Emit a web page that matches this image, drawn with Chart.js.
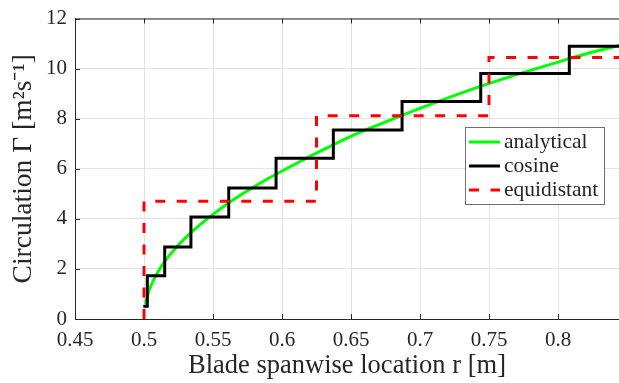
<!DOCTYPE html>
<html lang="en">

<head>
    <meta charset="UTF-8">
    <title>Circulation distribution</title>
    <script src="https://cdn.jsdelivr.net/npm/chart.js"></script>
    <style>
        body { margin: 0; background: #fff; }
    </style>
</head>

<body>
    <canvas id="graficoCirc" width="619" height="383"></canvas>

<script>
    // eixos
    const xTicks = [0.45, 0.5, 0.55, 0.6, 0.65, 0.7, 0.75, 0.8];
    const yTicks = [0, 2, 4, 6, 8, 10, 12];
    const seriesNames = ['analytical', 'cosine', 'equidistant'];

    // curva analitica
    const analyticalR = [0.501, 0.5025, 0.505, 0.508, 0.512, 0.517, 0.523, 0.53, 0.54, 0.55, 0.562,
        0.575, 0.59, 0.61, 0.63, 0.655, 0.68, 0.71, 0.74, 0.77, 0.8, 0.825, 0.8442];
    const analyticalG = [0.6, 0.93, 1.32, 1.67, 2.05, 2.44, 2.84, 3.24, 3.74, 4.18, 4.66,
        5.12, 5.61, 6.2, 6.76, 7.42, 7.98, 8.62, 9.22, 9.76, 10.26, 10.66, 10.92];

    // distribuicao cosseno (degraus)
    const cosineR = [0.4995, 0.5024, 0.515, 0.534, 0.5614, 0.5957, 0.6372, 0.687, 0.744, 0.8082, 0.8442];
    const cosineG = [0.51, 1.73, 2.88, 4.07, 5.23, 6.42, 7.55, 8.69, 9.8, 10.89, 10.89];

    // distribuicao equidistante (degraus)
    const equiR = [0.5, 0.5, 0.625, 0.75, 0.8442];
    const equiG = [0, 4.7, 8.12, 10.44, 10.44];

    const toPoints = (xs, ys) => xs.map((x, i) => ({ x: x, y: ys[i] }));

    const corEixo = '#262626';
    const fonteSerif = "'Liberation Serif', 'Times New Roman', serif";

    // bordas, ticks internos e legenda no estilo MATLAB
    const estiloMatlab = {
        id: 'estiloMatlab',
        beforeDatasetsDraw(chart) {
            const { ctx, chartArea: a, scales: { x, y } } = chart;
            ctx.save();
            ctx.strokeStyle = corEixo;
            ctx.lineWidth = 1;
            ctx.beginPath();
            ctx.moveTo(a.left, a.top + 0.5);
            ctx.lineTo(a.right, a.top + 0.5);
            xTicks.forEach(v => {
                const px = Math.round(x.getPixelForValue(v)) + 0.5;
                ctx.moveTo(px, a.bottom);
                ctx.lineTo(px, a.bottom - 5);
                ctx.moveTo(px, a.top);
                ctx.lineTo(px, a.top + 5);
            });
            yTicks.forEach(v => {
                const py = Math.round(y.getPixelForValue(v)) + 0.5;
                ctx.moveTo(a.left, py);
                ctx.lineTo(a.left + 5, py);
            });
            ctx.stroke();
            ctx.restore();
        },
        afterDraw(chart) {
            const ctx = chart.ctx;
            const bx = 465, by = 127, bw = 139, bh = 77;
            ctx.save();
            ctx.fillStyle = '#fff';
            ctx.fillRect(bx, by, bw, bh);
            ctx.strokeStyle = '#707070';
            ctx.lineWidth = 1;
            ctx.strokeRect(bx + 0.5, by + 0.5, bw, bh);
            ctx.font = '21.5px ' + fonteSerif;
            ctx.textBaseline = 'middle';
            ctx.fillStyle = corEixo;
            seriesNames.forEach((nome, i) => {
                const ds = chart.data.datasets.find(d => d.label === nome);
                const ly = by + 15 + i * 24;
                ctx.strokeStyle = ds.borderColor;
                ctx.lineWidth = ds.borderWidth;
                ctx.setLineDash(ds.borderDash || []);
                ctx.beginPath();
                ctx.moveTo(bx + 4, ly);
                ctx.lineTo(bx + 35, ly);
                ctx.stroke();
                ctx.setLineDash([]);
                ctx.fillText(nome, bx + 39, ly);
            });
            ctx.restore();
        }
    };

    const ctx = document.getElementById('graficoCirc').getContext('2d');

    new Chart(ctx, {
        type: 'line',
        data: {
            datasets: [
                {
                    label: seriesNames[0],
                    data: toPoints(analyticalR, analyticalG),
                    borderColor: '#00ff00',
                    borderWidth: 3,
                    pointRadius: 0,
                    cubicInterpolationMode: 'monotone',
                    order: 2
                },
                {
                    label: seriesNames[1],
                    data: toPoints(cosineR, cosineG),
                    borderColor: '#000000',
                    borderWidth: 3,
                    pointRadius: 0,
                    stepped: 'before',
                    order: 1
                },
                {
                    label: seriesNames[2],
                    data: toPoints(equiR, equiG),
                    borderColor: '#ff0000',
                    borderWidth: 3,
                    borderDash: [10, 11.5],
                    pointRadius: 0,
                    stepped: 'before',
                    order: 0
                }
            ]
        },
        options: {
            responsive: false,
            animation: false,
            layout: { padding: { top: 12, right: 0, bottom: 0, left: 0 } },
            plugins: {
                legend: { display: false },
                tooltip: { enabled: false }
            },
            scales: {
                x: {
                    type: 'linear',
                    min: 0.45,
                    max: 0.8442,
                    afterBuildTicks: s => { s.ticks = xTicks.map(v => ({ value: v })); },
                    afterFit: s => { s.height = 64; },
                    grid: { color: '#e3e3e3', drawTicks: false },
                    border: { color: corEixo, width: 1 },
                    ticks: {
                        color: corEixo,
                        padding: 11,
                        maxRotation: 0,
                        font: { family: fonteSerif, size: 21, lineHeight: 1 },
                        callback: v => String(v)
                    },
                    title: {
                        display: true,
                        text: 'Blade spanwise location r [m]',
                        color: corEixo,
                        padding: { top: 0, bottom: 4 },
                        font: { family: fonteSerif, size: 26.5, lineHeight: 1 }
                    }
                },
                y: {
                    min: 0,
                    max: 12,
                    afterBuildTicks: s => { s.ticks = yTicks.map(v => ({ value: v })); },
                    afterFit: s => { s.width = 75; },
                    grid: { color: '#e3e3e3', drawTicks: false },
                    border: { color: corEixo, width: 1 },
                    ticks: {
                        color: corEixo,
                        padding: 8,
                        font: { family: fonteSerif, size: 21, lineHeight: 1 },
                        callback: v => String(v)
                    },
                    title: {
                        display: true,
                        text: 'Circulation Γ [m²s⁻¹]',
                        color: corEixo,
                        padding: { top: 10.5, bottom: 0 },
                        font: { family: fonteSerif, size: 27.5, lineHeight: 1 }
                    }
                }
            }
        },
        plugins: [estiloMatlab]
    });
</script>
</body>

</html>
